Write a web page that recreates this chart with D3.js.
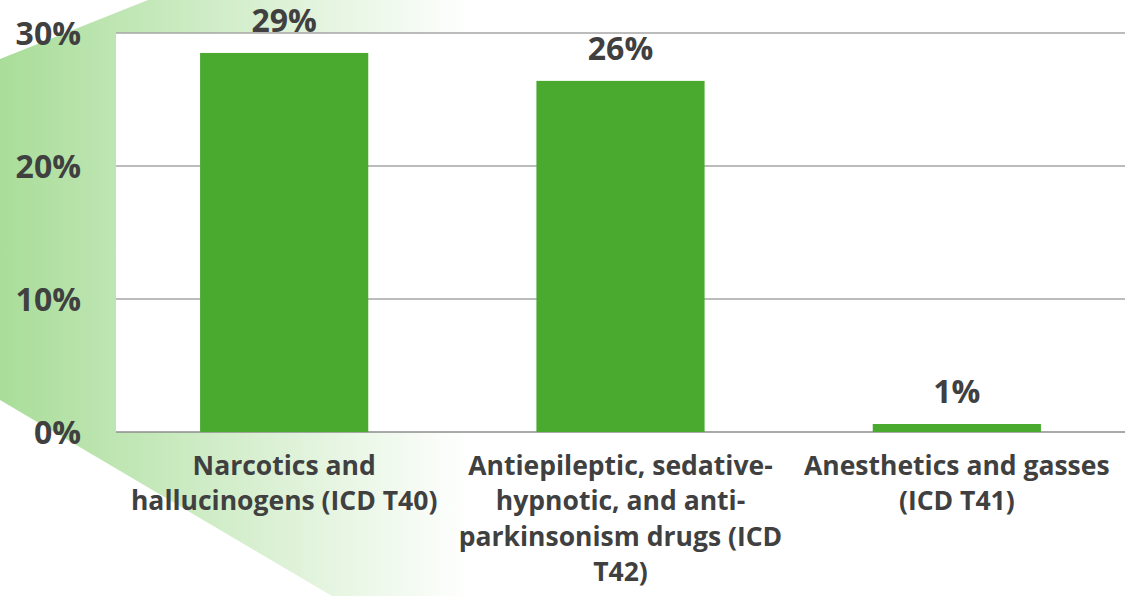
<!DOCTYPE html>
<html><head><meta charset="utf-8">
<script src="https://cdn.jsdelivr.net/npm/d3@7/dist/d3.min.js"></script>
<style>html,body{margin:0;padding:0;background:#fff;}svg{display:block;}</style>
</head><body>
<script>
const categories = ["T40", "T42", "T41"];
const categoryLines = [
  ["Narcotics and", "hallucinogens (ICD T40)"],
  ["Antiepileptic, sedative-", "hypnotic, and anti-", "parkinsonism drugs (ICD", "T42)"],
  ["Anesthetics and gasses", "(ICD T41)"]
];
const values = [28.5, 26.4, 0.6];
const valueLabels = ["29%", "26%", "1%"];
const yTicks = [0, 10, 20, 30];

const W = 1130, H = 596;
const m = {left: 116, right: 5, top: 33, bottom: 164};
const svg = d3.select("body").append("svg").attr("width", W).attr("height", H);
const font = "'Open Sans', sans-serif";
const textColor = "#404040";

const defs = svg.append("defs");
const grad = defs.append("linearGradient").attr("id", "bg").attr("gradientUnits", "userSpaceOnUse")
  .attr("x1", 0).attr("x2", 470).attr("y1", 0).attr("y2", 0);
grad.append("stop").attr("offset", 0).attr("stop-color", "#a9dd99");
grad.append("stop").attr("offset", 1).attr("stop-color", "#ffffff");

svg.append("polygon")
  .attr("points", [[0,59],[148,0],[600,0],[600,596],[332,596],[0,400]].map(p => p.join(",")).join(" "))
  .attr("fill", "url(#bg)");

const x = d3.scaleBand().domain(categories).range([m.left, W - m.right]).paddingInner(0.5).paddingOuter(0.25);
const y = d3.scaleLinear().domain([0, 30]).range([H - m.bottom, m.top]);

svg.append("rect").attr("x", m.left).attr("y", m.top).attr("width", W - m.right - m.left)
  .attr("height", y(0) - m.top).attr("fill", "#fff");

// gridlines
svg.append("g").selectAll("line").data(yTicks).join("line")
  .attr("x1", m.left).attr("x2", W - m.right)
  .attr("y1", d => y(d)).attr("y2", d => y(d))
  .attr("stroke", d => d === 0 ? "#8c8c8c" : "#a6a6a6").attr("stroke-width", 1.5);

// y tick labels
const yAxis = d3.axisLeft(y).tickValues(yTicks).tickFormat(d => d + "%").tickSize(0).tickPadding(0);
const ya = svg.append("g").attr("transform", `translate(81,0)`).call(yAxis);
ya.select(".domain").remove();
ya.selectAll("text").attr("font-family", font).attr("font-weight", 700).attr("font-size", 32)
  .attr("fill", textColor).attr("dy", "0.35em");

// bars
svg.append("g").selectAll("rect").data(values).join("rect")
  .attr("x", (d, i) => x(categories[i])).attr("width", x.bandwidth())
  .attr("y", d => y(d)).attr("height", d => y(0) - y(d))
  .attr("fill", "#4aa92f");

// value labels
svg.append("g").selectAll("text").data(values).join("text")
  .attr("x", (d, i) => x(categories[i]) + x.bandwidth() / 2)
  .attr("y", d => y(d) - 21)
  .attr("text-anchor", "middle").attr("font-family", font).attr("font-weight", 700)
  .attr("font-size", 32).attr("fill", textColor)
  .text((d, i) => valueLabels[i]);

// category labels
const cl = svg.append("g").selectAll("text").data(categories).join("text")
  .attr("x", d => x(d) + x.bandwidth() / 2)
  .attr("y", 475)
  .attr("text-anchor", "middle").attr("font-family", font).attr("font-weight", 700)
  .attr("font-size", 26.5).attr("fill", textColor);
cl.each(function(d, i) {
  const t = d3.select(this);
  categoryLines[i].forEach((line, j) => {
    t.append("tspan").attr("x", x(d) + x.bandwidth() / 2).attr("y", 475 + j * 35.3).text(line);
  });
});
</script>
</body></html>
